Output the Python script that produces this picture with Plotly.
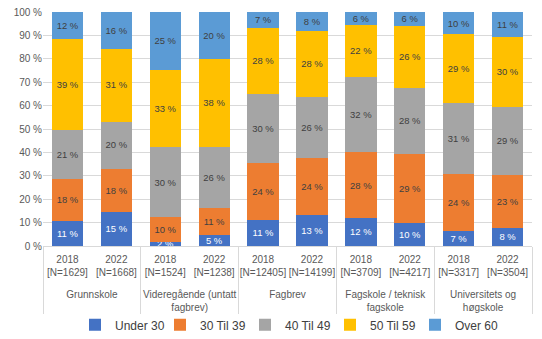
import plotly.graph_objects as go

groups = ["Grunnskole", "Videregående (untatt<br>fagbrev)", "Fagbrev",
          "Fagskole / teknisk<br>fagskole", "Universitets og<br>høgskole"]
years = ["2018", "2022"]
ns = ["1629", "1668", "1524", "1238", "12405", "14199", "3709", "4217", "3317", "3504"]

series_names = ["Under 30", "30 Til 39", "40 Til 49", "50 Til 59", "Over 60"]
under30 = [10.7, 14.6, 1.8, 4.7, 11.1, 13.2, 11.8, 10.0, 6.6, 7.6]
til39 = [17.9, 18.4, 10.4, 11.4, 24.2, 24.4, 28.2, 29.4, 24.0, 22.8]
til49 = [21.1, 20.2, 30.0, 26.1, 29.7, 26.0, 32.1, 28.2, 30.6, 28.8]
til59 = [38.6, 31.2, 33.2, 37.7, 28.0, 28.4, 22.3, 26.4, 29.2, 30.2]
over60 = [11.7, 15.6, 24.6, 20.1, 7.0, 8.0, 5.6, 6.0, 9.6, 10.6]

colors = ["#4472C4", "#ED7D31", "#A5A5A5", "#FFC000", "#5B9BD5"]
text_colors = ["white", "#404040", "#404040", "#404040", "#404040"]

x_top = []
x_bottom = []
for i, g in enumerate(groups):
    for j, y in enumerate(years):
        x_top.append(g)
        x_bottom.append(f"{y}<br>[N={ns[2*i+j]}]<br> ")

fig = go.Figure()
for name, vals, c, tc in zip(series_names, [under30, til39, til49, til59, over60], colors, text_colors):
    fig.add_trace(go.Bar(
        x=[x_top, x_bottom], y=vals, name=name,
        marker=dict(color=c, line=dict(width=0)),
        texttemplate="%{y:.0f} %", textposition="inside", insidetextanchor="middle",
        textfont=dict(color=tc, size=10, family="Liberation Sans"),
        hoverinfo="skip",
    ))

fig.update_layout(
    barmode="stack", bargap=0.36,
    width=542, height=339,
    margin=dict(l=43, r=10, t=12, b=93, autoexpand=False),
    paper_bgcolor="white", plot_bgcolor="white",
    font=dict(family="Liberation Sans", size=10, color="#595959"),
    uniformtext=dict(minsize=9, mode="show"),
    legend=dict(orientation="h", x=0.5, xanchor="center", y=-0.275, yanchor="top",
                bgcolor="rgba(0,0,0,0)",
                font=dict(size=12, color="#404040"), traceorder="normal",
                itemwidth=30, entrywidth=40, entrywidthmode="pixels"),
    showlegend=True,
)
fig.update_yaxes(range=[0, 100], dtick=10, ticksuffix=" %", showgrid=True,
                 gridcolor="#D9D9D9", zeroline=False, showline=False,
                 tickfont=dict(size=10, color="#595959"))
fig.update_xaxes(showline=True, linecolor="#D9D9D9", dividercolor="#D9D9D9",
                 showdividers=True, tickangle=0, automargin=False,
                 ticklabelstandoff=4,
                 tickfont=dict(size=10, color="#595959"))

fig.write_html("out.html")
